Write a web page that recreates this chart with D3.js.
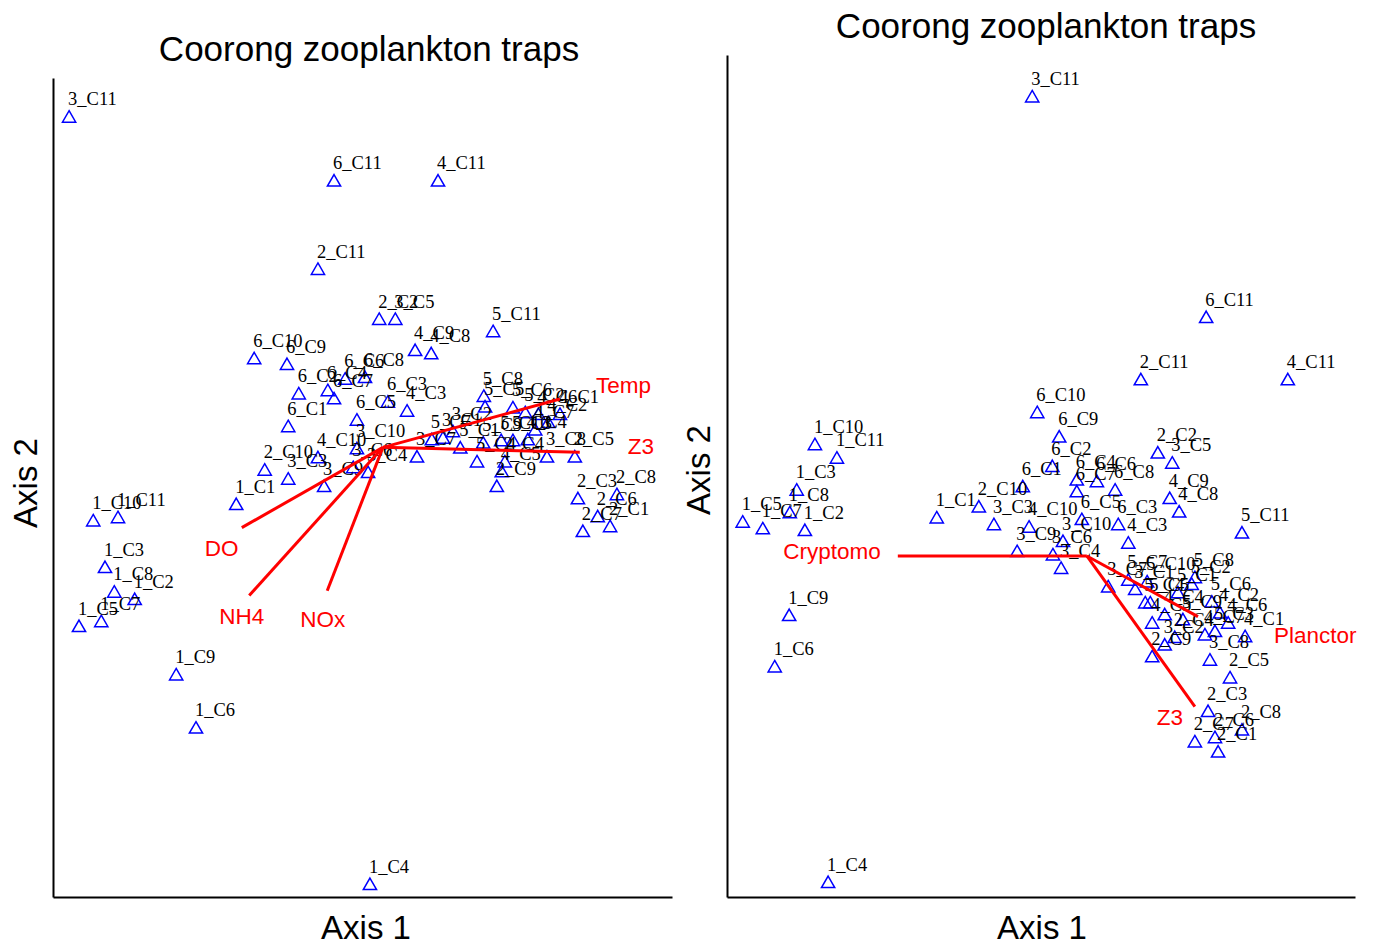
<!DOCTYPE html>
<html>
<head>
<meta charset="utf-8">
<script src="https://cdn.jsdelivr.net/npm/d3@7"></script>
<style>
  html, body { margin: 0; padding: 0; background: #ffffff; }
  svg { display: block; }
</style>
</head>
<body>
<svg id="chart" width="1373" height="945"></svg>
<script>
// Sample labels: site_trap, sites 1-6 by traps C1-C11
const sampleLabels = [
  "1_C1","1_C2","1_C3","1_C4","1_C5","1_C6","1_C7","1_C8","1_C9","1_C10","1_C11",
  "2_C1","2_C2","2_C3","2_C4","2_C5","2_C6","2_C7","2_C8","2_C9","2_C10","2_C11",
  "3_C1","3_C2","3_C3","3_C4","3_C5","3_C6","3_C7","3_C8","3_C9","3_C10","3_C11",
  "4_C1","4_C2","4_C3","4_C4","4_C5","4_C6","4_C7","4_C8","4_C9","4_C10","4_C11",
  "5_C1","5_C2","5_C3","5_C4","5_C5","5_C6","5_C7","5_C8","5_C9","5_C10","5_C11",
  "6_C1","6_C2","6_C3","6_C4","6_C5","6_C6","6_C7","6_C8","6_C9","6_C10","6_C11"
];

// Ordination scores, environmental overlay
const leftAxis1 = [
  29.6, 13.2, 8.4, 51.2, 4.2, 23.1, 7.8, 9.9, 19.9, 6.5, 10.5,
  90.0, 52.7, 84.8, 73.0, 84.3, 88.0, 85.6, 91.1, 71.7, 34.2, 42.8,
  63.0, 64.6, 38.0, 50.9, 55.3, 48.5, 58.8, 79.8, 43.8, 49.1, 2.6,
  81.9, 80.0, 57.2, 76.7, 72.5, 78.4, 77.9, 61.1, 58.5, 42.8, 62.2,
  65.8, 76.3, 74.3, 68.5, 69.8, 74.3, 61.2, 69.6, 69.5, 72.4, 71.1,
  38.0, 39.7, 54.1, 44.4, 49.1, 47.2, 45.4, 50.4, 37.8, 32.5, 45.4
];
const leftAxis2 = [
  47.9, 36.3, 40.2, 1.5, 33.0, 20.6, 33.6, 37.2, 27.1, 45.9, 46.3,
  45.2, 70.5, 48.6, 53.1, 53.7, 46.4, 44.6, 49.1, 50.1, 52.1, 76.6,
  56.0, 56.8, 51.0, 51.8, 70.5, 52.4, 53.7, 53.7, 50.1, 54.7, 95.2,
  58.9, 57.9, 59.3, 55.8, 51.9, 58.9, 57.0, 66.3, 66.7, 53.6, 87.4,
  54.8, 59.1, 55.7, 53.1, 59.8, 59.7, 55.8, 61.1, 55.4, 55.7, 69.0,
  57.4, 61.4, 60.4, 61.8, 58.2, 63.2, 60.8, 63.4, 65.0, 65.7, 87.4
];
const leftVectorNames = ["Temp", "Z3", "DO", "NH4", "NOx"];
const leftVectorOrigin = [53.3, 54.9];
const leftVectorAxis1 = [81.9, 85.1, 30.5, 31.7, 44.3];
const leftVectorAxis2 = [60.8, 54.3, 45.1, 36.8, 37.4];

// Ordination scores, taxon overlay
const rightAxis1 = [
  33.4, 12.4, 11.1, 16.1, 2.5, 7.6, 5.7, 10.0, 9.9, 14.0, 17.5,
  78.2, 68.6, 76.6, 71.3, 80.1, 77.7, 74.5, 82.0, 67.7, 40.1, 65.9,
  65.0, 69.7, 42.5, 53.2, 70.9, 51.9, 60.7, 76.9, 46.2, 53.5, 48.6,
  82.5, 78.5, 63.9, 69.7, 67.7, 79.8, 76.1, 72.0, 70.5, 48.1, 89.3,
  71.8, 74.0, 77.7, 66.6, 67.4, 77.2, 63.9, 74.5, 72.6, 66.9, 82.0,
  47.1, 51.8, 62.3, 55.7, 56.5, 58.9, 55.7, 61.8, 52.9, 49.4, 76.3
];
const rightAxis2 = [
  45.0, 43.5, 48.3, 1.7, 44.5, 27.3, 43.7, 45.6, 33.4, 53.7, 52.1,
  17.2, 52.7, 22.0, 30.8, 26.0, 18.9, 18.4, 19.8, 28.5, 46.3, 61.4,
  36.5, 29.9, 44.2, 39.0, 51.5, 40.6, 36.8, 28.1, 41.0, 42.2, 95.0,
  30.9, 33.7, 42.0, 33.5, 32.5, 32.5, 31.1, 45.7, 47.3, 43.9, 61.4,
  36.1, 37.1, 31.5, 34.9, 34.9, 35.0, 37.6, 37.9, 32.9, 37.4, 43.2,
  48.7, 51.1, 44.2, 49.5, 44.8, 49.3, 48.1, 48.3, 54.6, 57.5, 68.8
];
const rightVectorNames = ["Cryptomo", "Planctor", "Z3"];
const rightVectorOrigin = [57.3, 40.5];
const rightVectorAxis1 = [27.2, 75.0, 74.5];
const rightVectorAxis2 = [40.5, 33.3, 22.6];

const titleText = "Coorong zooplankton traps";
const axisTitles = ["Axis 1", "Axis 2"];

// Layout of the two panels
const panels = [
  {
    axis1: leftAxis1, axis2: leftAxis2,
    vNames: leftVectorNames, vOrigin: leftVectorOrigin,
    v1: leftVectorAxis1, v2: leftVectorAxis2,
    xRange: [53, 672], yRange: [897, 78],
    titleX: 369, titleY: 61,
    xTitleX: 366, yTitleX: 37, yTitleY: 483,
    vLabelOffsets: [[36, -6, "start"], [48, 2, "start"], [-37, 28, "start"], [-30, 28, "start"], [-27, 36, "start"]]
  },
  {
    axis1: rightAxis1, axis2: rightAxis2,
    vNames: rightVectorNames, vOrigin: rightVectorOrigin,
    v1: rightVectorAxis1, v2: rightVectorAxis2,
    xRange: [727, 1355], yRange: [897, 55],
    titleX: 1046, titleY: 38,
    xTitleX: 1042, yTitleX: 710, yTitleY: 470,
    vLabelOffsets: [[-17, 3, "end"], [76, 26, "start"], [-38, 18, "start"]]
  }
];

const svg = d3.select("#chart");
const sans = "'Liberation Sans', Arial, sans-serif";
const serif = "'Liberation Serif', 'Times New Roman', serif";
const tri = d3.symbol().type(d3.symbolTriangle).size(76);

panels.forEach(p => {
  const x = d3.scaleLinear().domain([0, 100]).range(p.xRange);
  const y = d3.scaleLinear().domain([0, 100]).range(p.yRange);
  const g = svg.append("g");

  // bare axis lines, no ticks
  const xAxis = g.append("g")
    .attr("transform", `translate(0,${p.yRange[0]})`)
    .call(d3.axisBottom(x).tickValues([]).tickSizeOuter(0));
  const yAxis = g.append("g")
    .attr("transform", `translate(${p.xRange[0]},0)`)
    .call(d3.axisLeft(y).tickValues([]).tickSizeOuter(0));
  [xAxis, yAxis].forEach(a => a.select(".domain").attr("stroke", "#000").attr("stroke-width", 2));

  const pts = sampleLabels.map((lab, i) => ({ lab, a1: p.axis1[i], a2: p.axis2[i] }));

  // sample markers
  g.append("g").selectAll("path")
    .data(pts)
    .join("path")
    .attr("d", tri)
    .attr("transform", d => `translate(${x(d.a1)},${y(d.a2) + 1})`)
    .attr("fill", "none")
    .attr("stroke", "#0000ff")
    .attr("stroke-width", 1.5);

  // sample labels
  g.append("g").selectAll("text")
    .data(pts)
    .join("text")
    .attr("x", d => x(d.a1) - 1)
    .attr("y", d => y(d.a2) - 12)
    .attr("font-family", serif)
    .attr("font-size", 18.5)
    .attr("fill", "#000")
    .text(d => d.lab);

  // overlay vectors
  const vecs = p.vNames.map((n, i) => ({ n, a1: p.v1[i], a2: p.v2[i], off: p.vLabelOffsets[i] }));
  g.append("g").selectAll("line")
    .data(vecs)
    .join("line")
    .attr("x1", x(p.vOrigin[0]))
    .attr("y1", y(p.vOrigin[1]))
    .attr("x2", d => x(d.a1))
    .attr("y2", d => y(d.a2))
    .attr("stroke", "#ff0000")
    .attr("stroke-width", 3);
  g.append("g").selectAll("text")
    .data(vecs)
    .join("text")
    .attr("x", d => x(d.a1) + d.off[0])
    .attr("y", d => y(d.a2) + d.off[1])
    .attr("text-anchor", d => d.off[2])
    .attr("font-family", sans)
    .attr("font-size", 22.5)
    .attr("fill", "#ff0000")
    .text(d => d.n);

  // titles
  g.append("text")
    .attr("x", p.titleX).attr("y", p.titleY)
    .attr("text-anchor", "middle")
    .attr("font-family", sans).attr("font-size", 35)
    .text(titleText);
  g.append("text")
    .attr("x", p.xTitleX).attr("y", 939)
    .attr("text-anchor", "middle")
    .attr("font-family", sans).attr("font-size", 33)
    .text(axisTitles[0]);
  g.append("text")
    .attr("transform", `translate(${p.yTitleX},${p.yTitleY}) rotate(-90)`)
    .attr("text-anchor", "middle")
    .attr("font-family", sans).attr("font-size", 33)
    .text(axisTitles[1]);
});
</script>
</body>
</html>
